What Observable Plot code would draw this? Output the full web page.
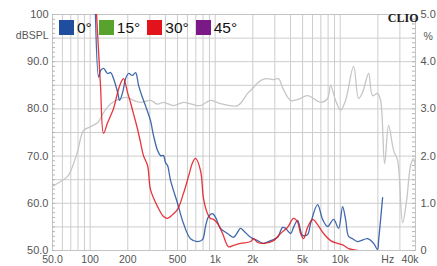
<!DOCTYPE html>
<html><head><meta charset="utf-8">
<script src="https://cdn.jsdelivr.net/npm/d3@7"></script>
<script src="https://cdn.jsdelivr.net/npm/@observablehq/plot@0.6"></script>
<style>
body{margin:0;background:#fff;}
#wrap{position:relative;width:437px;height:266px;font-family:"Liberation Sans",Arial,sans-serif;}
#legend{position:absolute;left:59px;top:20px;display:flex;align-items:center;font-size:15.5px;color:#111;line-height:15px;}
#legend .it{display:flex;align-items:center;margin-right:7px;}
#legend .sw{width:15px;height:15px;margin-right:3px;}
</style></head>
<body><div id="wrap"><div id="legend"></div></div>
<script>
// ---- data ----
const series = ["0°", "15°", "30°", "45°"];
const seriesColors = ["#1f4e9e", "#58a22e", "#e3131b", "#7b1a86"];

const xTickVals = [50, 100, 200, 500, 1000, 2000, 5000, 10000];
const xTickLabels = ["50.0", "100", "200", "500", "1k", "2k", "5k", "10k"];
const xUnitVal = [24000];
const xUnitLabel = ["Hz"];
const xEndVal = [40000];
const xEndLabel = ["40k"];

const yTickVals = [50, 60, 70, 80, 90, 100];
const yTickLabels = ["50.0", "60.0", "70.0", "80.0", "90.0", "100"];
const y2TickLabels = ["0", "1.0", "2.0", "3.0", "4.0", "5.0"];
const yUnitLeft = "dBSPL";
const yUnitRight = "%";

// 0° response (Hz, dBSPL)
const blueF = [110,117,121,128,138,146,154,166,172,182,192,203,218,231,244,262,277,304,321,346,366,386,401,416,440,500,558,635,723,792,837,885,953,1007,1104,1256,1403,1596,1687,1919,2183,2438,2773,3155,3459,3655,4009,4236,4560,5000,5482,5794,6592,7228,7924,8851,9705,10447,11041,11667,12559,13772,16557,18490,19905,20277,21827];
const blueDb = [101,86.7,88.1,88.6,87.5,87.7,86.4,83.5,81.8,83.5,86.4,87.5,87.1,87.7,85.0,82.4,80.7,77.5,74.4,71.2,70.1,70.1,68.6,68.0,64.8,60.0,55.7,52.5,51.9,52.3,55.1,57.2,57.8,57.0,54.7,53.6,52.8,54.7,54.2,52.8,52.1,51.5,52.1,52.8,54.9,54.7,53.6,54.9,56.4,53.2,53.4,55.7,59.7,56.6,55.1,56.6,54.7,59.3,56.6,53.0,52.5,51.9,52.5,51.5,50.2,52.1,61.2];

// 30° response (Hz, dBSPL)
const redF = [112,121,128,138,146,154,166,175,185,199,210,222,239,253,267,288,304,346,386,416,456,500,558,612,659,697,764,807,869,918,970,1045,1146,1279,1403,1596,1919,2028,2183,2438,2931,3334,3793,4236,4560,4819,5093,5482,6012,6592,7362,8375,9528,10641,11667,12795,13772];
const redDb = [101,85.0,74.8,77.1,78.6,80.1,83.5,85.4,86.4,83.5,81.4,79.0,75.8,72.9,70.1,68.0,62.9,59.3,57.2,56.8,57.6,58.7,62.1,65.7,68.6,69.5,66.9,61.0,57.8,56.8,56.6,55.7,53.6,50.8,51.1,51.5,51.9,52.5,51.7,51.5,52.1,53.6,54.9,56.8,56.0,53.6,52.5,54.9,56.6,55.5,53.6,52.1,51.5,51.1,50.4,50.2,50.0];

// distortion curve (Hz, %)
const grayF = [50,66,70,79,88.5,100,115,128,146,175,199,222,253,304,346,386,464,558,650,764,918,1104,1510,1815,1919,2306,2600,2900,3214,3459,4009,4600,5482,6966,7924,8375,9180,10070,11041,12795,14026,15100,16865,18150,19905,21037,22646,24376,26730,28771,31548,33960,36557,38637,40000];
const grayPct = [1.36,1.57,1.69,2.08,2.54,2.62,2.71,2.92,3.11,3.22,3.24,3.18,3.14,3.18,3.10,3.14,3.07,3.14,3.10,3.07,3.18,3.11,3.07,3.33,3.39,3.60,3.64,3.62,3.64,3.45,3.18,3.20,3.28,3.14,3.22,3.50,3.18,2.97,3.18,3.90,3.22,3.35,3.75,3.28,3.33,3.18,1.84,2.65,2.12,1.91,0.59,1.06,1.80,1.95,1.69];

// ---- build ----
const blue = blueF.map((f, i) => ({f, v: blueDb[i]}));
const red = redF.map((f, i) => ({f, v: redDb[i]}));
const gray = grayF.map((f, i) => ({f, v: grayPct[i]}));
const pctToDb = p => 50 + p * 10;

const gridF = [];
for (const dec of [10, 100, 1000, 10000]) for (let m = 1; m <= 9; m++) { const f = m * dec; if (f >= 50 && f <= 40000) gridF.push(f); }
const gridDb = d3.range(50, 100.1, 5);
const minorDb = d3.range(50, 100.1, 1);

const gridColor = "#cdcdcd";
const labelColor = "#555";
const W = 437, ML = 52, MR = 22;
const plotW = W - ML - MR;

const chart = Plot.plot({
  width: W, height: 266,
  marginLeft: ML, marginRight: MR, marginTop: 14, marginBottom: 16,
  x: {type: "log", domain: [50, 40000], axis: null},
  y: {domain: [50, 100], axis: null},
  style: {fontFamily: "'Liberation Sans', Arial, sans-serif", fontSize: "11px", color: labelColor, background: "#fff", overflow: "visible"},
  marks: [
    Plot.ruleX(gridF, {x: d => d, stroke: gridColor, strokeWidth: 1}),
    Plot.ruleY(gridDb, {y: d => d, stroke: gridColor, strokeWidth: 1}),
    Plot.frame({stroke: "#c4c4c4"}),
    Plot.tickY(minorDb, {y: d => d, insetRight: plotW - 3, stroke: "#b5b5b5"}),
    Plot.tickY(minorDb, {y: d => d, insetLeft: plotW - 3, stroke: "#b5b5b5"}),
    Plot.line(gray, {x: "f", y: d => pctToDb(d.v), stroke: "#c6c6c6", strokeWidth: 1.3, curve: "catmull-rom", clip: true}),
    Plot.line(blue, {x: "f", y: "v", stroke: seriesColors[0], strokeWidth: 1.3, strokeOpacity: 0.85, curve: "catmull-rom", clip: true}),
    Plot.line(red, {x: "f", y: "v", stroke: seriesColors[2], strokeWidth: 1.3, strokeOpacity: 0.85, curve: "catmull-rom", clip: true}),
    Plot.text(yTickVals, {y: d => d, text: (d, i) => yTickLabels[i], frameAnchor: "left", textAnchor: "end", dx: -4, fill: labelColor, fontSize: 11}),
    Plot.text(yTickVals, {y: d => d, text: (d, i) => y2TickLabels[i], frameAnchor: "right", textAnchor: "start", dx: 5, fill: labelColor, fontSize: 11}),
    Plot.text([yUnitLeft], {y: [95.5], frameAnchor: "left", textAnchor: "end", dx: -4, text: d => d, fill: labelColor, fontSize: 10.5}),
    Plot.text([yUnitRight], {y: [95.3], frameAnchor: "right", textAnchor: "start", dx: 8, text: d => d, fill: labelColor, fontSize: 10.5}),
    Plot.text(xTickVals, {x: d => d, text: (d, i) => xTickLabels[i], frameAnchor: "bottom", dy: 12, fill: labelColor, fontSize: 10.5}),
    Plot.text(xUnitVal, {x: d => d, text: (d, i) => xUnitLabel[i], frameAnchor: "bottom", dy: 12, fill: labelColor, fontSize: 10.5}),
    Plot.text(xEndVal, {x: d => d, text: (d, i) => xEndLabel[i], frameAnchor: "bottom", dy: 12, dx: 3, textAnchor: "end", fill: labelColor, fontSize: 10.5}),
    Plot.text(["CLIO"], {frameAnchor: "top-right", text: d => d, textAnchor: "end", lineAnchor: "top", dx: 3, dy: -1,
      fontFamily: "'Liberation Serif', 'Times New Roman', serif", fontWeight: "bold", fontSize: 12, fill: "#1a1a1a"})
  ]
});
document.getElementById("wrap").prepend(chart);

const legend = document.getElementById("legend");
series.forEach((s, i) => {
  const it = document.createElement("div"); it.className = "it";
  const sw = document.createElement("div"); sw.className = "sw"; sw.style.background = seriesColors[i];
  const tx = document.createElement("span"); tx.textContent = s;
  it.appendChild(sw); it.appendChild(tx); legend.appendChild(it);
});
</script>
</body></html>
